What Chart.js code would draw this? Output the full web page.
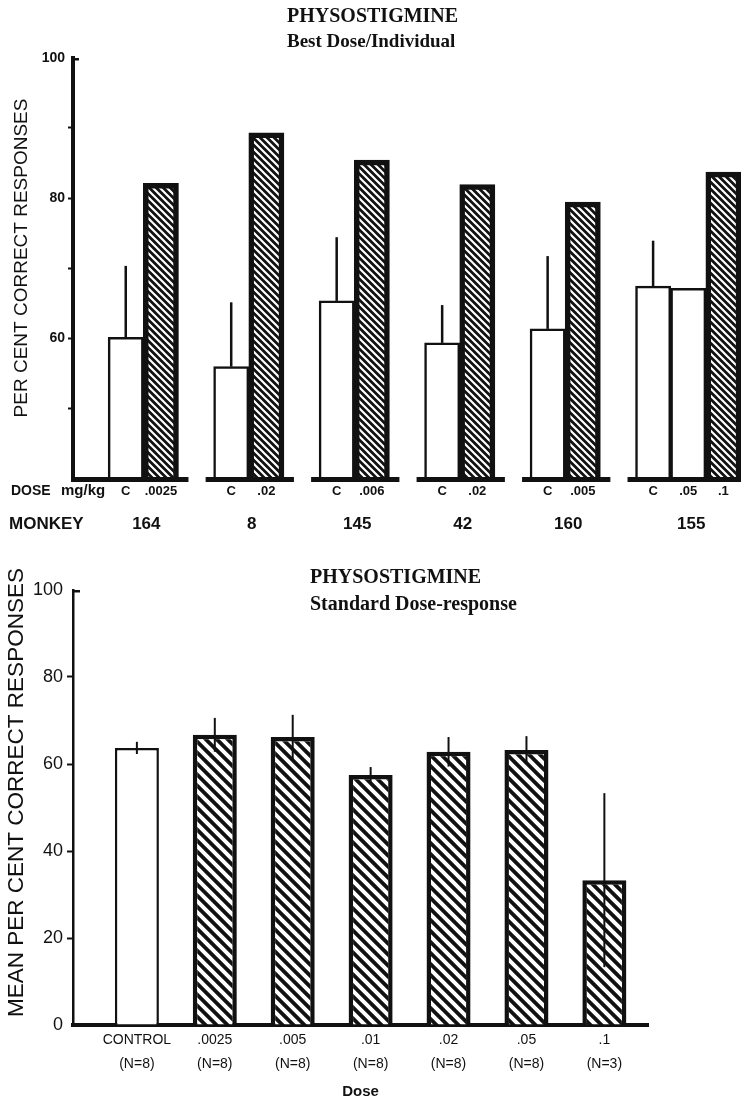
<!DOCTYPE html>
<html>
<head>
<meta charset="utf-8">
<script src="https://cdn.jsdelivr.net/npm/chart.js@4.4.1/dist/chart.umd.min.js"></script>
<style>
  html, body { margin: 0; padding: 0; background: #fff; }
  #page { position: relative; width: 741px; height: 1103px; overflow: hidden; }
  canvas { position: absolute; left: 0; }
  .ttl { position: absolute; font-family: "Liberation Serif", "Times New Roman", serif; font-weight: bold;
         color: #111; white-space: nowrap; line-height: 1; }
</style>
</head>
<body>
<div id="page">
  <canvas id="best" width="741" height="550" style="top:0"></canvas>
  <canvas id="std" width="741" height="553" style="top:550px"></canvas>
  <div class="ttl" style="left:287px;top:5px;font-size:20px">PHYSOSTIGMINE</div>
  <div class="ttl" style="left:287px;top:31px;font-size:19px">Best Dose/Individual</div>
  <div class="ttl" style="left:310px;top:566px;font-size:20px">PHYSOSTIGMINE</div>
  <div class="ttl" style="left:310px;top:593px;font-size:20px">Standard Dose-response</div>
</div>
<script>
// ---- Best dose for each monkey (per cent correct) ----
const monkeys     = ['164', '8', '145', '42', '160', '155'];
const bestDoses   = [['.0025'], ['.02'], ['.006'], ['.02'], ['.005'], ['.05', '.1']];
const controlPct  = [60.1, 55.9, 65.3, 59.3, 61.3, 67.4];
const controlErr  = [10.2, 9.2, 9.1, 5.4, 10.4, 6.5];
const drugPct     = [[82.1], [89.3], [85.4], [81.9], [79.4], [67.1, 83.7]];
const openDrugBar = [[false], [false], [false], [false], [false], [true, false]];
const bestTicks   = [100, 80, 60];

// ---- Standard dose-response (mean per cent correct) ----
const doseLabels = ['CONTROL', '.0025', '.005', '.01', '.02', '.05', '.1'];
const nLabels    = ['(N=8)', '(N=8)', '(N=8)', '(N=8)', '(N=8)', '(N=8)', '(N=3)'];
const meanPct    = [63.7, 66.7, 66.2, 57.5, 62.8, 63.2, 33.3];
const semPct     = [1.4, 3.9, 5.1, 1.8, 3.4, 3.2, 20.0];
const stdTicks   = [0, 20, 40, 60, 80, 100];

const INK = '#111';
const SANS = '"Liberation Sans", Arial, sans-serif';
Chart.defaults.font.family = SANS;
Chart.defaults.color = INK;

// diagonal "\" hatching: dark ground, light stripes
function hatch(period, stripe) {
  const c = document.createElement('canvas');
  c.width = c.height = period;
  const g = c.getContext('2d');
  g.fillStyle = INK;
  g.fillRect(0, 0, period, period);
  g.strokeStyle = '#fff';
  g.lineWidth = stripe;
  g.beginPath();
  for (let k = -1; k <= 1; k++) {
    g.moveTo(k * period - 2, -2);
    g.lineTo(k * period + period + 2, period + 2);
  }
  g.stroke();
  return g.createPattern(c, 'repeat');
}
const hatchFine = hatch(7, 2.2);
const hatchCoarse = hatch(11, 4);

// slots of the individual chart: a leading blank, then the monkeys separated by blanks
const slots = [{ label: '', value: null }];
const groups = [];
monkeys.forEach((m, g) => {
  if (g > 0) slots.push({ label: '', value: null });
  const first = slots.length;
  slots.push({ label: 'C', value: controlPct[g], err: controlErr[g], kind: 'open' });
  bestDoses[g].forEach((d, k) => slots.push({
    label: d, value: drugPct[g][k], kind: openDrugBar[g][k] ? 'open' : 'hatch'
  }));
  groups.push({ name: m, first, last: slots.length - 1 });
});

// vertical error lines drawn on top of the bars
const errorBars = {
  id: 'errorBars',
  afterDatasetsDraw(chart, args, opts) {
    const { ctx, scales: { y } } = chart;
    const meta = chart.getDatasetMeta(0);
    ctx.save();
    ctx.strokeStyle = INK;
    ctx.lineWidth = opts.width;
    opts.items.forEach(it => {
      const bar = meta.data[it.index];
      ctx.beginPath();
      ctx.moveTo(bar.x, y.getPixelForValue(it.low));
      ctx.lineTo(bar.x, y.getPixelForValue(it.high));
      ctx.stroke();
    });
    ctx.restore();
  }
};

// short cap pointing right at the top of the value axis
const topCap = {
  id: 'topCap',
  afterDraw(chart, args, opts) {
    const { ctx, chartArea, scales: { y } } = chart;
    const py = y.getPixelForValue(y.max) + opts.width / 2;
    ctx.save();
    ctx.strokeStyle = INK;
    ctx.lineWidth = opts.width;
    ctx.beginPath();
    ctx.moveTo(chartArea.left, py);
    ctx.lineTo(chartArea.left + opts.len, py);
    ctx.stroke();
    ctx.restore();
  }
};

// rotated value-axis caption
const sideTitle = {
  id: 'sideTitle',
  afterDraw(chart, args, opts) {
    const { ctx, chartArea } = chart;
    ctx.save();
    ctx.translate(opts.x, (chartArea.top + chartArea.bottom) / 2 + opts.shift);
    ctx.rotate(-Math.PI / 2);
    ctx.font = opts.font;
    ctx.fillStyle = INK;
    ctx.textAlign = 'center';
    ctx.textBaseline = 'middle';
    ctx.fillText(opts.text, 0, 0);
    ctx.restore();
  }
};

// broken baseline under each monkey plus the row captions
const monkeyAxis = {
  id: 'monkeyAxis',
  afterDraw(chart) {
    const { ctx, chartArea, scales: { x } } = chart;
    const step = x.getPixelForValue(1) - x.getPixelForValue(0);
    ctx.save();
    ctx.strokeStyle = INK;
    ctx.fillStyle = INK;
    ctx.lineWidth = 5;
    const yb = chartArea.bottom + 1.5;
    groups.forEach((g, i) => {
      const left = i === 0 ? chartArea.left - 2 : x.getPixelForValue(g.first) - step / 2 - 8;
      const right = Math.min(x.getPixelForValue(g.last) + step / 2 + 10, chart.width);
      ctx.beginPath();
      ctx.moveTo(left, yb);
      ctx.lineTo(right, yb);
      ctx.stroke();
    });
    ctx.textBaseline = 'middle';
    ctx.textAlign = 'left';
    ctx.font = 'bold 14px ' + SANS;
    ctx.fillText('DOSE', 11, chartArea.bottom + 13);
    ctx.font = 'bold 15px ' + SANS;
    ctx.fillText('mg/kg', 61, chartArea.bottom + 13);
    ctx.font = 'bold 17px ' + SANS;
    ctx.fillText('MONKEY', 9, chartArea.bottom + 46);
    ctx.textAlign = 'center';
    groups.forEach(g => {
      const cx = (x.getPixelForValue(g.first) + x.getPixelForValue(g.last)) / 2 + 3;
      ctx.fillText(g.name, cx, chartArea.bottom + 46);
    });
    ctx.restore();
  }
};

const hideTicksAt = vals => c => vals.includes(c.tick && c.tick.value) ? 'rgba(0,0,0,0)' : INK;

// ---------- individual best-dose chart ----------
new Chart(document.getElementById('best'), {
  type: 'bar',
  data: {
    labels: slots.map(s => s.label),
    datasets: [{
      data: slots.map(s => s.value),
      backgroundColor: slots.map(s => s.kind === 'hatch' ? hatchFine : '#fff'),
      borderColor: INK,
      borderWidth: slots.map(s => s.kind === 'hatch' ? 5.5 : 2.5),
      borderSkipped: 'bottom',
      barPercentage: 1,
      categoryPercentage: 1
    }]
  },
  options: {
    responsive: false,
    animation: false,
    events: [],
    layout: { padding: { top: 58, right: 0, left: 0, bottom: 0 } },
    plugins: {
      legend: { display: false },
      tooltip: { enabled: false },
      errorBars: {
        width: 2.5,
        items: slots.map((s, i) => s.err ? { index: i, low: s.value, high: s.value + s.err } : null).filter(Boolean)
      },
      topCap: { width: 2.5, len: 6 },
      sideTitle: { text: 'PER CENT CORRECT RESPONSES', x: 22, shift: -10, font: '19px ' + SANS }
    },
    scales: {
      x: {
        type: 'category',
        offset: true,
        grid: { display: false, drawTicks: false },
        border: { display: false },
        ticks: {
          autoSkip: false, maxRotation: 0, minRotation: 0, padding: 6, color: INK,
          font: { size: 13, weight: 'bold' }
        },
        afterFit(s) { s.height = 72; }
      },
      y: {
        min: 40, max: 100,
        ticks: {
          stepSize: 10, padding: 3, color: INK,
          callback: v => bestTicks.includes(v) ? String(v) : '',
          font: { size: 14, weight: 'bold' }
        },
        grid: { drawOnChartArea: false, drawTicks: true, tickLength: 5, tickWidth: 2, tickColor: hideTicksAt([40, 100]) },
        border: { display: true, width: 4, color: INK },
        afterFit(s) { s.width = 73; }
      }
    }
  },
  plugins: [errorBars, topCap, sideTitle, monkeyAxis]
});

// ---------- standard dose-response chart ----------
new Chart(document.getElementById('std'), {
  type: 'bar',
  data: {
    datasets: [{
      data: meanPct.map((v, i) => ({ x: i, y: v })),
      backgroundColor: meanPct.map((v, i) => i === 0 ? '#fff' : hatchCoarse),
      borderColor: INK,
      borderWidth: meanPct.map((v, i) => i === 0 ? 2.5 : 4.5),
      borderSkipped: 'bottom',
      barPercentage: 0.565,
      categoryPercentage: 1
    }]
  },
  options: {
    responsive: false,
    animation: false,
    events: [],
    layout: { padding: { top: 40, right: 93, left: 0, bottom: 0 } },
    plugins: {
      legend: { display: false },
      tooltip: { enabled: false },
      errorBars: {
        width: 2,
        items: meanPct.map((v, i) => ({ index: i, low: v - semPct[i], high: v + semPct[i] }))
      },
      topCap: { width: 2.5, len: 7 },
      sideTitle: { text: 'MEAN PER CENT CORRECT RESPONSES', x: 17, shift: -15, font: '22.5px ' + SANS }
    },
    scales: {
      x: {
        type: 'linear',
        offset: false,
        min: -0.82, max: 6.56,
        afterBuildTicks(s) { s.ticks = doseLabels.map((_, i) => ({ value: i })); },
        ticks: {
          autoSkip: false, maxRotation: 0, minRotation: 0, padding: 4, color: INK,
          callback: v => [doseLabels[v], nLabels[v]],
          font: { size: 14, lineHeight: 1.65 }
        },
        grid: { display: false, drawTicks: false },
        border: { display: true, width: 4, color: INK },
        title: {
          display: true, text: 'Dose', color: INK,
          font: { size: 15, weight: 'bold' }, padding: { top: 0, bottom: 2 }
        },
        afterFit(s) { s.height = 78; }
      },
      y: {
        min: 0, max: 100,
        afterBuildTicks(s) { s.ticks = stdTicks.map(v => ({ value: v })); },
        ticks: { padding: 4, color: INK, font: { size: 18 } },
        grid: { drawOnChartArea: false, drawTicks: true, tickLength: 6, tickWidth: 2, tickColor: hideTicksAt([0, 100]) },
        border: { display: true, width: 2.5, color: INK },
        afterFit(s) { s.width = 73; }
      }
    }
  },
  plugins: [errorBars, topCap, sideTitle]
});
</script>
</body>
</html>
